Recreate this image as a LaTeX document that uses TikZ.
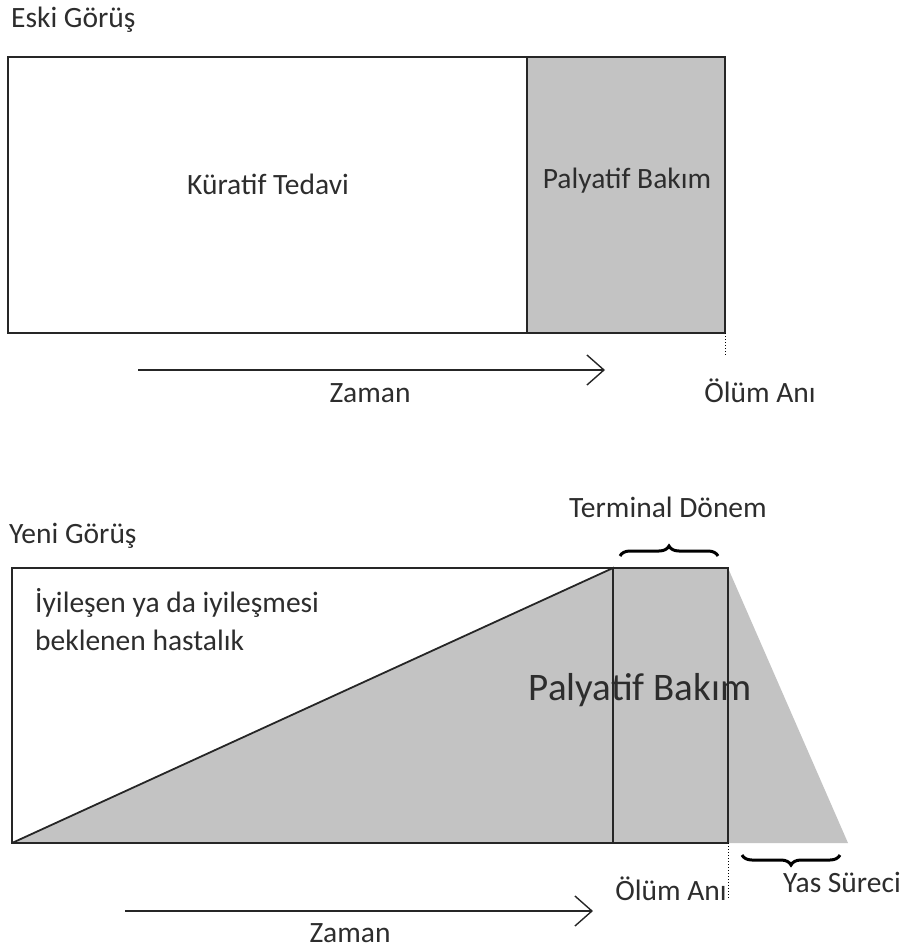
\documentclass[tikz,border=0pt]{standalone}
\usepackage{fontspec}
\setmainfont{Carlito}
\usetikzlibrary{arrows.meta,decorations.pathreplacing}
\definecolor{bakim}{RGB}{195,195,195}
\definecolor{yazi}{RGB}{45,45,45}

\begin{document}
\begin{tikzpicture}[x=1pt,y=-1pt,
  lbl/.style={text=yazi,font=\fontsize{29.5}{38}\selectfont,inner sep=0pt},
  kutu/.style={draw=black!85,line width=1.8pt},
  zaman/.style={line width=1.4pt,black!85,-{Straight Barb[length=17pt,width=30pt,line width=1.4pt]}},
  ayrac/.style={black,line width=3pt,decorate,decoration={brace,amplitude=10pt}}]
\useasboundingbox (0,0) rectangle (908,950);

% eski gorus
\node[lbl,anchor=base west] (eski) at (11,28) {Eski Görüş};
\fill[bakim] (527,57) rectangle (725,333);
\draw[kutu] (8,57) rectangle (725,333);
\draw[kutu] (527,57) -- (527,333);
\node[lbl,anchor=base] (kuratif) at (268,194) {Küratif Tedavi};
\node[lbl,anchor=base] (palyatif1) at (627,188) {Palyatif Bakım};
\draw[dotted,line width=1pt] (725,333) -- (725,356);
\coordinate (z1a) at (138,370);
\coordinate (z1b) at (605,370);
\draw[zaman] (z1a) -- (z1b);
\node[lbl,anchor=base] (zaman1) at (370,402) {Zaman};
\node[lbl,anchor=base] (olum1) at (760,402) {Ölüm Anı};

% yeni gorus
\node[lbl,anchor=base west] (yeni) at (9,543) {Yeni Görüş};
\node[lbl,anchor=base] (terminal) at (668,517) {Terminal Dönem};
\fill[bakim] (12,843) -- (613,568) -- (728,568) -- (848,843) -- cycle;
\node[text=yazi,font=\fontsize{39}{46}\selectfont,inner sep=0pt,anchor=base] (palyatif2) at (640,700) {Palyatif Bakım};
\draw[kutu] (12,568) rectangle (728,843);
\draw[kutu] (12,843) -- (613,568) -- (613,843);
\node[lbl,anchor=base west,align=left] (hastalik) at (35,650) {İyileşen ya da iyileşmesi\\beklenen hastalık};
\draw[ayrac] (620,556) -- (718,556);
\draw[ayrac,decoration={mirror}] (742,855) -- (840,855);
\draw[dotted,line width=1pt] (728,843) -- (728,898);
\node[lbl,anchor=base] (olum2) at (671,900) {Ölüm Anı};
\node[lbl,anchor=base] (yas) at (842,892) {Yas Süreci};
\coordinate (z2a) at (125,911);
\coordinate (z2b) at (593,911);
\draw[zaman] (z2a) -- (z2b);
\node[lbl,anchor=base] (zaman2) at (350,942) {Zaman};
\end{tikzpicture}
\end{document}
